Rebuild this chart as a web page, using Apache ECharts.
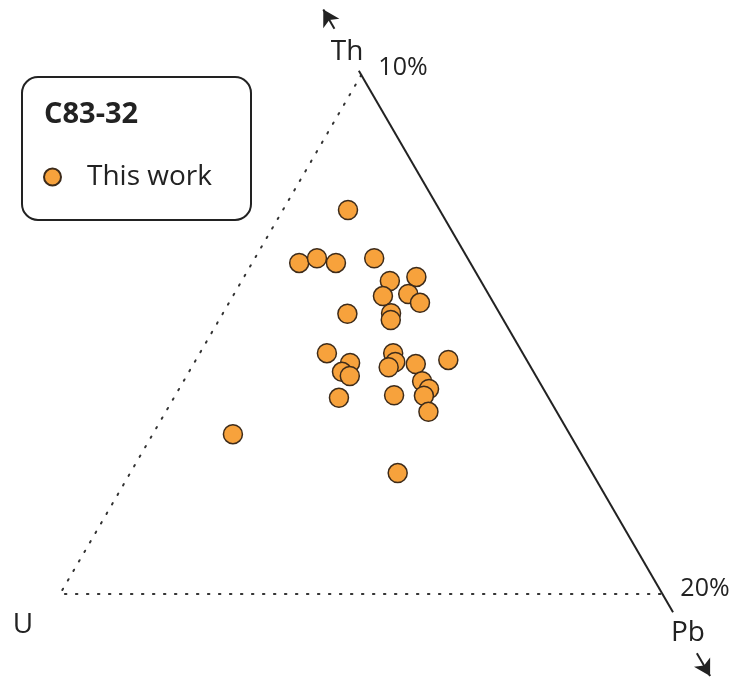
<!DOCTYPE html>
<html>
<head>
<meta charset="utf-8">
<script src="https://cdn.jsdelivr.net/npm/echarts@6/dist/echarts.min.js"></script>
<style>
html,body{margin:0;padding:0;background:#fff;}
#chart{width:733px;height:683px;}
</style>
</head>
<body>
<div id="chart"></div>
<script>
// Ternary fractions (normalised to the plotted triangle): Th (top), Pb (right), U = 1 - Th - Pb (left)
const seriesName = "This work";
const sampleName = "C83-32";
const thValues = [0.740,0.638,0.647,0.638,0.647,0.603,0.611,0.574,0.578,0.561,0.540,0.541,0.528,0.464,0.445,0.428,0.420,0.464,0.447,0.437,0.443,0.451,0.410,0.395,0.382,0.351,0.383,0.378,0.308,0.233];
const pbValues = [0.108,0.078,0.103,0.139,0.198,0.246,0.286,0.249,0.289,0.317,0.207,0.279,0.285,0.211,0.259,0.254,0.271,0.321,0.333,0.327,0.369,0.419,0.396,0.415,0.413,0.436,0.363,0.274,0.133,0.444];
const cornerLabels = ["U", "Th", "Pb"];
const scaleLabels = ["10%", "20%"];
// Th–Pb edge extent (Th fraction along the edge) and arrow segments on its extension
const edgeThRange = [1.008, -0.035];
const topArrowTh = [1.089, 1.126];
const bottomArrowTh = [-0.114, -0.158];

function toXY(th, pb) { return [pb + th / 2, th]; }
function onEdge(th) { return toXY(th, 1 - th); }

const points = thValues.map((th, i) => toXY(th, pbValues[i]));

// plotting frame: triangle base 602.5 px wide (x 60..662.5), height 519 px (y 594..75)
const X_MIN = -0.08, X_MAX = 1.1, Y_MIN = -0.17, Y_MAX = 1.14;
const PX_X = 602.5, PX_Y = 519;
const gridLeft = 60 + X_MIN * PX_X;
const gridRight = 733 - (60 + X_MAX * PX_X);
const gridTop = 594 - Y_MAX * PX_Y;
const gridBottom = 683 - (594 - Y_MIN * PX_Y);

const chart = echarts.init(document.getElementById('chart'), null, {renderer: 'canvas'});
const FONT = '"Open Sans", "Noto Sans", sans-serif';
const ink = '#222';

chart.setOption({
  animation: false,
  backgroundColor: '#fff',
  grid: {left: gridLeft, right: gridRight, top: gridTop, bottom: gridBottom},
  xAxis: {type: 'value', min: X_MIN, max: X_MAX, show: false},
  yAxis: {type: 'value', min: Y_MIN, max: Y_MAX, show: false},
  legend: {
    data: [seriesName],
    left: 43, top: 163, padding: 0,
    icon: 'circle', itemWidth: 17, itemHeight: 17,
    textStyle: {fontFamily: FONT, fontSize: 28, color: ink, padding: [0, 0, 0, 21]}
  },
  series: [
    {
      type: 'line', silent: true, symbol: 'none', clip: false,
      data: [toXY(1, 0), toXY(0, 0), toXY(0, 1)],
      lineStyle: {color: '#333', width: 2, type: [1.5, 9.5], cap: 'round'}
    },
    {
      type: 'line', silent: true, symbol: 'none', clip: false,
      data: [onEdge(edgeThRange[0]), onEdge(edgeThRange[1])],
      lineStyle: {color: ink, width: 2},
      markLine: {
        silent: true, symbol: ['none', 'arrow'], symbolSize: [14, 16],
        label: {show: false},
        lineStyle: {color: ink, width: 2, type: 'solid'},
        data: [
          [{coord: onEdge(topArrowTh[0])}, {coord: onEdge(topArrowTh[1])}],
          [{coord: onEdge(bottomArrowTh[0])}, {coord: onEdge(bottomArrowTh[1])}]
        ]
      }
    },
    {
      name: seriesName, type: 'scatter', symbol: 'circle', symbolSize: 19,
      data: points,
      itemStyle: {color: '#F7A23C', borderColor: '#3d2b1a', borderWidth: 1.5, opacity: 1}
    }
  ],
  graphic: [
    {type: 'rect', shape: {x: 22, y: 77, width: 229, height: 143, r: 16},
     style: {fill: 'none', stroke: ink, lineWidth: 2}},
    {type: 'text', x: 44, y: 115, style: {text: sampleName, fontFamily: FONT, fontWeight: 'bold', fontSize: 29, fill: ink, textVerticalAlign: 'middle'}},
    {type: 'text', x: 23, y: 625, style: {text: cornerLabels[0], fontFamily: FONT, fontSize: 28, fill: ink, textAlign: 'center', textVerticalAlign: 'middle'}},
    {type: 'text', x: 347, y: 52, style: {text: cornerLabels[1], fontFamily: FONT, fontSize: 28, fill: ink, textAlign: 'center', textVerticalAlign: 'middle'}},
    {type: 'text', x: 688, y: 633, style: {text: cornerLabels[2], fontFamily: FONT, fontSize: 28, fill: ink, textAlign: 'center', textVerticalAlign: 'middle'}},
    {type: 'text', x: 403, y: 68, style: {text: scaleLabels[0], fontFamily: FONT, fontSize: 25, fill: ink, textAlign: 'center', textVerticalAlign: 'middle'}},
    {type: 'text', x: 705, y: 589, style: {text: scaleLabels[1], fontFamily: FONT, fontSize: 25, fill: ink, textAlign: 'center', textVerticalAlign: 'middle'}}
  ]
});
</script>
</body>
</html>
